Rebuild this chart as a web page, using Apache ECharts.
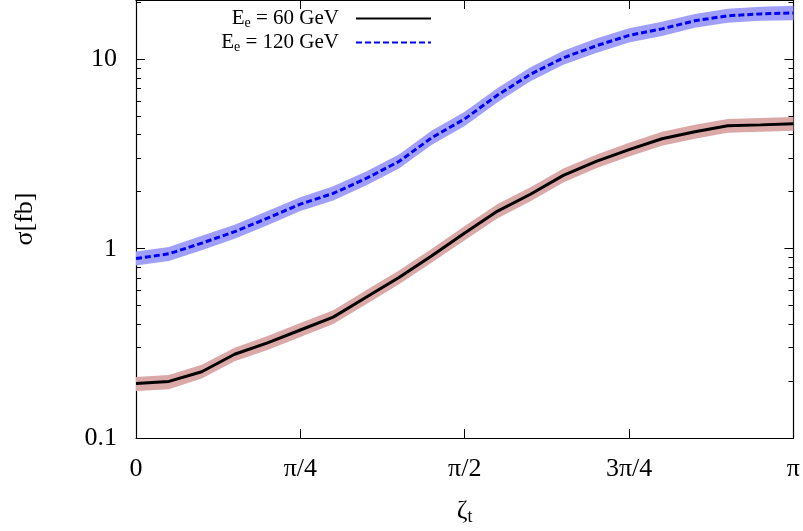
<!DOCTYPE html>
<html>
<head>
<meta charset="utf-8">
<script src="https://cdn.jsdelivr.net/npm/echarts@6/dist/echarts.min.js"></script>
<style>
  html, body { margin: 0; padding: 0; background: #fff; }
  #chart { width: 803px; height: 531px; }
</style>
</head>
<body>
<div id="chart"></div>
<script>
// zeta_t in units of pi
const zeta = [0, 0.05, 0.1, 0.15, 0.2, 0.25, 0.3, 0.35, 0.4, 0.45, 0.5, 0.55, 0.6, 0.65, 0.7, 0.75, 0.8, 0.85, 0.9, 0.95, 1];

// E_e = 60 GeV
const sigma60   = [0.194, 0.199, 0.224, 0.277, 0.318, 0.372, 0.435, 0.554, 0.705, 0.919, 1.21, 1.58, 1.94, 2.44, 2.89, 3.34, 3.81, 4.15, 4.46, 4.51, 4.57];
const sigma60Lo = [0.177, 0.181, 0.206, 0.254, 0.292, 0.342, 0.400, 0.509, 0.648, 0.845, 1.11, 1.45, 1.78, 2.24, 2.66, 3.07, 3.50, 3.81, 4.10, 4.15, 4.20];
const sigma60Hi = [0.210, 0.215, 0.244, 0.300, 0.346, 0.405, 0.473, 0.603, 0.767, 1.00, 1.32, 1.72, 2.11, 2.65, 3.14, 3.63, 4.15, 4.52, 4.85, 4.91, 4.97];

// E_e = 120 GeV
const sigma120   = [0.887, 0.94, 1.07, 1.23, 1.45, 1.72, 1.96, 2.35, 2.89, 3.86, 4.85, 6.48, 8.35, 10.2, 11.8, 13.4, 14.5, 16.0, 17.0, 17.4, 17.6];
const sigma120Lo = [0.814, 0.862, 0.982, 1.13, 1.33, 1.58, 1.80, 2.16, 2.65, 3.54, 4.45, 5.94, 7.66, 9.36, 10.8, 12.3, 13.3, 14.7, 15.6, 16.0, 16.1];
const sigma120Hi = [0.967, 1.02, 1.17, 1.34, 1.58, 1.87, 2.14, 2.56, 3.15, 4.21, 5.29, 7.06, 9.10, 11.1, 12.9, 14.6, 15.8, 17.4, 18.5, 19.0, 19.2];

const energies = ['60', '120'];
const seriesNames = ['Ee = 60 GeV', 'Ee = 120 GeV'];

const xTickValues = [0, 0.25, 0.5, 0.75, 1];
const xTickLabels = ['0', 'π/4', 'π/2', '3π/4', 'π'];
const yMajorTicks = [0.1, 1, 10];
const yMajorLabels = ['0.1', '1', '10'];
const yMinorTicks = [0.2, 0.3, 0.4, 0.5, 0.6, 0.7, 0.8, 0.9, 2, 3, 4, 5, 6, 7, 8, 9, 20];

const FONT = 'Liberation Serif';
const chart = echarts.init(document.getElementById('chart'), null, { renderer: 'canvas' });

function bandRenderer(lo, hi, color) {
  return function (params, api) {
    if (params.dataIndex !== 0) return null;
    const pts = [];
    for (let i = 0; i < zeta.length; i++) pts.push(api.coord([zeta[i], hi[i]]));
    for (let i = zeta.length - 1; i >= 0; i--) pts.push(api.coord([zeta[i], lo[i]]));
    return { type: 'polygon', shape: { points: pts }, style: { fill: color } };
  };
}

const yBase = {
  type: 'log', logBase: 10, min: 0.1, max: 20.6,
  splitLine: { show: false }, minorTick: { show: false }
};
const axisLineStyle = { color: '#000', width: 1.2 };

function legendText(name) {
  const idx = seriesNames.indexOf(name);
  return '{a|E}{s|e}{b| = ' + energies[idx] + ' GeV}';
}
const legendRich = {
  a: { fontFamily: FONT, fontSize: 21, color: '#000' },
  s: { fontFamily: FONT, fontSize: 14, color: '#000', padding: [10, 0, 0, 0] },
  b: { fontFamily: FONT, fontSize: 21, color: '#000', padding: [0, 12, 0, 0] }
};
const legendCommon = {
  right: 371, orient: 'vertical', align: 'right', padding: 0,
  itemWidth: 75, itemHeight: 14, formatter: legendText,
  textStyle: { rich: legendRich }, selectedMode: false,
  itemStyle: { opacity: 0, borderWidth: 0 }
};

const option = {
  animation: false,
  backgroundColor: '#fff',
  grid: { left: 136, right: 9, top: -3, bottom: 92 },
  legend: [
    Object.assign({ data: [seriesNames[0]], top: 8 }, legendCommon),
    Object.assign({ data: [seriesNames[1]], top: 32 }, legendCommon)
  ],
  xAxis: [
    {
      type: 'value', min: 0, max: 1, interval: 0.25, position: 'bottom',
      name: '{a|ζ}{s|t}', nameLocation: 'middle', nameGap: 58,
      nameTextStyle: { rich: {
        a: { fontFamily: FONT, fontSize: 26, color: '#000' },
        s: { fontFamily: FONT, fontSize: 18, color: '#000', padding: [12, 0, 0, 0] }
      } },
      axisLine: { lineStyle: axisLineStyle },
      axisTick: { inside: true, length: 9, lineStyle: { color: '#000' } },
      axisLabel: {
        fontFamily: FONT, fontSize: 26, color: '#000', margin: 18,
        formatter: function (v) {
          const i = xTickValues.findIndex(t => Math.abs(t - v) < 1e-9);
          return i >= 0 ? xTickLabels[i] : '';
        }
      },
      splitLine: { show: false }
    },
    {
      type: 'value', min: 0, max: 1, interval: 0.25, position: 'top',
      axisLine: { lineStyle: axisLineStyle },
      axisTick: { inside: true, length: 9, lineStyle: { color: '#000' } },
      axisLabel: { show: false },
      splitLine: { show: false }
    }
  ],
  yAxis: [
    Object.assign({}, yBase, {
      position: 'left',
      name: 'σ[fb]', nameLocation: 'middle', nameGap: 98, nameRotate: 90,
      nameTextStyle: { fontFamily: FONT, fontSize: 26, color: '#000' },
      axisLine: { show: true, lineStyle: axisLineStyle },
      axisTick: { show: true, inside: true, length: 9, customValues: yMajorTicks, lineStyle: { color: '#000' } },
      axisLabel: {
        fontFamily: FONT, fontSize: 26, color: '#000', margin: 19, customValues: yMajorTicks,
        formatter: function (v) {
          const i = yMajorTicks.findIndex(t => Math.abs(Math.log10(t) - Math.log10(v)) < 1e-6);
          return i >= 0 ? yMajorLabels[i] : '';
        }
      }
    }),
    Object.assign({}, yBase, {
      position: 'left',
      axisLine: { show: false },
      axisTick: { show: true, inside: true, length: 5, customValues: yMinorTicks, lineStyle: { color: '#000' } },
      axisLabel: { show: false }
    }),
    Object.assign({}, yBase, {
      position: 'right',
      axisLine: { show: true, lineStyle: axisLineStyle },
      axisTick: { show: true, inside: true, length: 9, customValues: yMajorTicks, lineStyle: { color: '#000' } },
      axisLabel: { show: false }
    }),
    Object.assign({}, yBase, {
      position: 'right',
      axisLine: { show: false },
      axisTick: { show: true, inside: true, length: 5, customValues: yMinorTicks, lineStyle: { color: '#000' } },
      axisLabel: { show: false }
    })
  ],
  series: [
    {
      type: 'custom', name: 'band60', xAxisIndex: 0, yAxisIndex: 0, z: 1, silent: true,
      renderItem: bandRenderer(sigma60Lo, sigma60Hi, '#dba8a8'),
      data: [[zeta[0], sigma60[0]]]
    },
    {
      type: 'custom', name: 'band120', xAxisIndex: 0, yAxisIndex: 0, z: 1, silent: true,
      renderItem: bandRenderer(sigma120Lo, sigma120Hi, '#a0a0fc'),
      data: [[zeta[0], sigma120[0]]]
    },
    {
      type: 'line', name: seriesNames[0], xAxisIndex: 0, yAxisIndex: 0, z: 3,
      symbol: 'none', showSymbol: false,
      lineStyle: { color: '#000', width: 3 },
      itemStyle: { color: '#000' },
      data: zeta.map((x, i) => [x, sigma60[i]])
    },
    {
      type: 'line', name: seriesNames[1], xAxisIndex: 0, yAxisIndex: 0, z: 3,
      symbol: 'none', showSymbol: false,
      lineStyle: { color: '#0000f0', width: 3, type: [6, 3] },
      itemStyle: { color: '#0000f0' },
      data: zeta.map((x, i) => [x, sigma120[i]])
    }
  ]
};
chart.setOption(option);
</script>
</body>
</html>
